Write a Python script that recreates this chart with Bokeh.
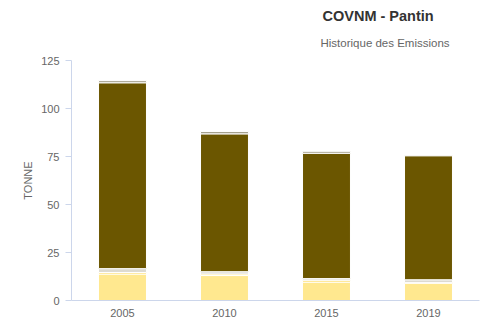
from bokeh.plotting import figure
from bokeh.models import FactorRange, Range1d, Title, FixedTicker, ColumnDataSource
from bokeh.embed import file_html
from bokeh.resources import INLINE

years = ["2005", "2010", "2015", "2019"]
s_yellow = [13.8, 13.0, 9.6, 9.0]
s_gold = [0.8, 0.8, 1.0, 0.3]
s_lgray = [2.0, 1.2, 0.8, 1.5]
s_brown = [96.8, 71.8, 65.3, 64.6]
s_top = [1.1, 1.2, 1.0, 0.4]
y_ticks = [0, 25, 50, 75, 100, 125]

series = ["s_yellow", "s_gold", "s_lgray", "s_brown", "s_top"]
colors = ["#FFE88F", "#FFD84D", "#DDDAD0", "#6B5600", "#A39E8A"]

src = ColumnDataSource(dict(years=years, s_yellow=s_yellow, s_gold=s_gold,
                            s_lgray=s_lgray, s_brown=s_brown, s_top=s_top))

p = figure(width=480, height=320, x_range=FactorRange(*years, range_padding=0),
           y_range=Range1d(0, 125), output_backend="svg", toolbar_location=None,
           min_border_left=71, min_border_right=1, min_border_top=60, min_border_bottom=20)
p.outline_line_color = None
p.background_fill_color = "white"
p.border_fill_color = "white"

p.vbar_stack(series, x="years", width=0.47, color=colors, line_color="white",
             line_width=1, source=src)

font = "Liberation Sans"
p.xgrid.grid_line_color = None
p.ygrid.grid_line_color = None

p.yaxis.ticker = FixedTicker(ticks=y_ticks)
p.yaxis.axis_line_color = "#ccd6eb"
p.yaxis.major_tick_line_color = "#ccd6eb"
p.yaxis.major_tick_out = 6
p.yaxis.major_tick_in = 0
p.yaxis.minor_tick_line_color = None
p.yaxis.major_label_text_color = "#666666"
p.yaxis.major_label_text_font = font
p.yaxis.major_label_text_font_size = "11px"
p.yaxis.major_label_standoff = 6
p.yaxis.axis_label = "TONNE"
p.yaxis.axis_label_text_font = font
p.yaxis.axis_label_text_font_size = "11px"
p.yaxis.axis_label_text_font_style = "normal"
p.yaxis.axis_label_text_color = "#666666"
p.yaxis.axis_label_standoff = 4

p.xaxis.axis_line_color = "#ccd6eb"
p.xaxis.major_tick_line_color = None
p.xaxis.major_tick_out = 0
p.xaxis.major_label_text_color = "#666666"
p.xaxis.major_label_text_font = font
p.xaxis.major_label_text_font_size = "11px"
p.xaxis.major_label_standoff = 8

p.add_layout(Title(text="Historique des Emissions", align="left", offset=249,
                   text_font=font, text_font_size="11.5px", text_font_style="normal",
                   text_color="#666666", standoff=23), "above")
p.add_layout(Title(text="COVNM - Pantin", align="left", offset=251,
                   text_font=font, text_font_size="14.5px", text_font_style="bold",
                   text_color="#333333", standoff=0), "above")

open("out.html", "w").write(file_html(p, INLINE))
